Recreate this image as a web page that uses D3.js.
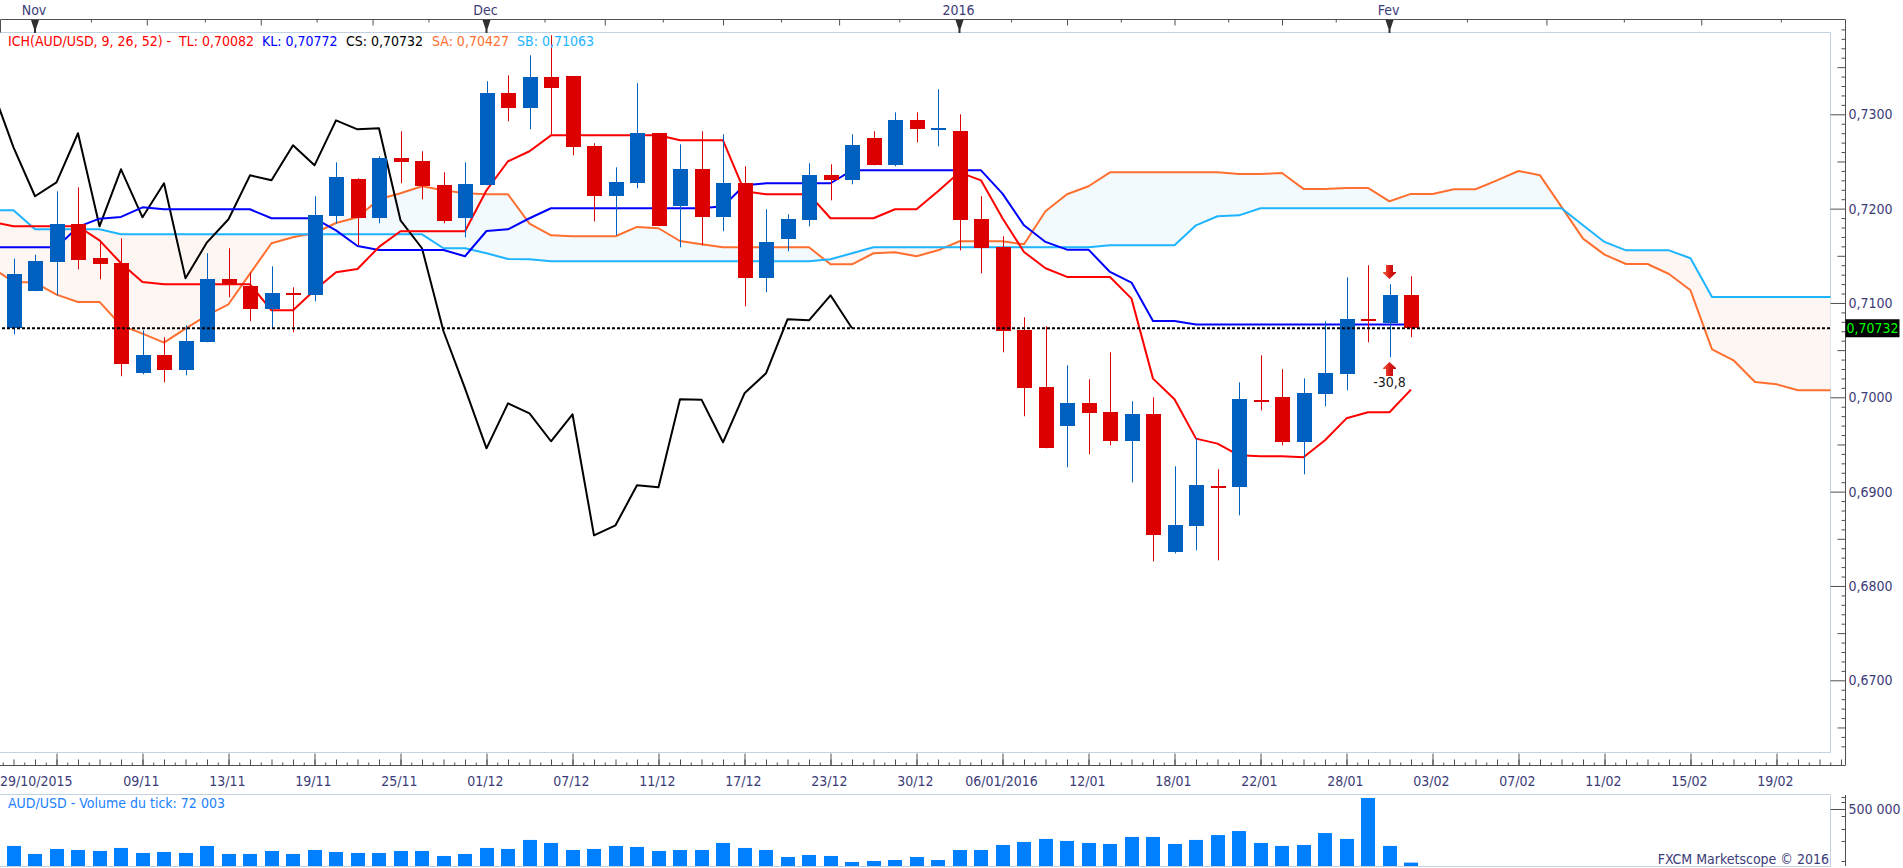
<!DOCTYPE html>
<html>
<head>
<meta charset="utf-8">
<script src="https://cdn.jsdelivr.net/npm/d3@7"></script>
<style>
    html, body { margin: 0; padding: 0; background: #fff; overflow: hidden; }
    text { font-family: "DejaVu Sans Condensed", "DejaVu Sans", sans-serif; font-size: 14px; }
    .axis text { fill: #3c3c78; font-size: 14px; font-family: "DejaVu Sans Condensed", "DejaVu Sans", sans-serif; }
    .axis path, .axis line { stroke: #505050; }
</style>
</head>
<body>
<div id="chart"></div>
<script>
// candles, index 0 = first bar on screen
const open = [0.70728,0.71134,0.71442,0.71841,0.71474,0.71421,0.70254,0.70445,0.70286,0.70583,0.71251,0.71177,0.70933,0.71102,0.71081,0.71919,0.72311,0.71898,0.72534,0.72502,0.72247,0.71898,0.72247,0.73223,0.73064,0.73392,0.73403,0.72661,0.72131,0.72269,0.72799,0.72025,0.72417,0.71908,0.72269,0.71261,0.71675,0.71876,0.72353,0.72300,0.72746,0.72459,0.72936,0.72841,0.72820,0.71887,0.71590,0.70710,0.70106,0.69693,0.69936,0.69841,0.69534,0.69820,0.68357,0.68632,0.69064,0.69046,0.69975,0.70000,0.69523,0.70032,0.70244,0.70827,0.70784,0.71081];
const high = [0.71470,0.71512,0.72184,0.72226,0.71664,0.71686,0.70710,0.70636,0.70763,0.71527,0.71580,0.71325,0.71389,0.71166,0.72131,0.72491,0.72322,0.72555,0.72820,0.72608,0.72385,0.72491,0.73350,0.73413,0.73625,0.73838,0.73403,0.72693,0.72438,0.73329,0.72799,0.72682,0.72820,0.72788,0.72449,0.71993,0.71940,0.72481,0.72470,0.72788,0.72820,0.73021,0.73021,0.73265,0.73000,0.72131,0.71707,0.70848,0.70753,0.70339,0.70191,0.70477,0.69958,0.70000,0.69269,0.69565,0.69237,0.70159,0.70445,0.70297,0.70201,0.70806,0.71272,0.71399,0.71198,0.71283];
const low = [0.70668,0.71124,0.71081,0.71357,0.71251,0.70223,0.70244,0.70159,0.70233,0.70583,0.71060,0.70806,0.70731,0.70689,0.71018,0.71841,0.71611,0.71845,0.72269,0.72099,0.71845,0.71696,0.72247,0.72926,0.72841,0.72788,0.72565,0.71866,0.71717,0.72216,0.71813,0.71590,0.71611,0.71760,0.70965,0.71113,0.71548,0.71813,0.72088,0.72258,0.72459,0.72449,0.72703,0.72661,0.71558,0.71314,0.70477,0.69799,0.69459,0.69258,0.69396,0.69491,0.69099,0.68261,0.68346,0.68378,0.68272,0.68749,0.69862,0.69491,0.69184,0.69905,0.70074,0.70583,0.70424,0.70636];
const close = [0.71304,0.71449,0.71841,0.71463,0.71410,0.70350,0.70445,0.70286,0.70594,0.71251,0.71198,0.70933,0.71102,0.71081,0.71929,0.72332,0.71898,0.72534,0.72491,0.72237,0.71866,0.72258,0.73223,0.73064,0.73392,0.73276,0.72650,0.72131,0.72279,0.72799,0.71813,0.72417,0.71908,0.72269,0.71261,0.71643,0.71887,0.72353,0.72300,0.72671,0.72459,0.72936,0.72841,0.72852,0.71876,0.71580,0.70700,0.70095,0.69459,0.69936,0.69830,0.69534,0.69820,0.68537,0.68643,0.69067,0.69046,0.69979,0.69958,0.69523,0.70042,0.70254,0.70827,0.70816,0.71081,0.70732];

// ichimoku lines, first value sits one bar left of the screen
const tenkan = [0.71859,0.71813,0.71813,0.71813,0.71813,0.71664,0.71421,0.71223,0.71198,0.71198,0.71198,0.71198,0.71198,0.70922,0.70922,0.71134,0.71325,0.71360,0.71594,0.71760,0.71760,0.71760,0.71760,0.72194,0.72502,0.72608,0.72777,0.72777,0.72777,0.72777,0.72777,0.72777,0.72724,0.72724,0.72724,0.72184,0.72152,0.72152,0.72152,0.71898,0.71898,0.71898,0.71993,0.71993,0.72184,0.72385,0.72300,0.71898,0.71541,0.71368,0.71276,0.71276,0.71276,0.71046,0.70198,0.69979,0.69562,0.69509,0.69385,0.69375,0.69375,0.69364,0.69544,0.69777,0.69841,0.69841,0.70082];
const kijun = [0.71590,0.71590,0.71590,0.71590,0.71806,0.71894,0.71912,0.72014,0.71993,0.71993,0.71993,0.71993,0.71993,0.71898,0.71898,0.71898,0.71770,0.71604,0.71562,0.71562,0.71562,0.71562,0.71495,0.71763,0.71781,0.71898,0.72004,0.72004,0.72004,0.72004,0.72004,0.72004,0.72004,0.72004,0.72025,0.72247,0.72269,0.72269,0.72269,0.72269,0.72406,0.72406,0.72406,0.72406,0.72406,0.72406,0.72406,0.72159,0.71823,0.71647,0.71565,0.71565,0.71329,0.71216,0.70809,0.70809,0.70772,0.70772,0.70772,0.70772,0.70772,0.70772,0.70772,0.70772,0.70772,0.70772,0.70772];
const chikou = [0.73276,0.72650,0.72131,0.72279,0.72799,0.71813,0.72417,0.71908,0.72269,0.71261,0.71643,0.71887,0.72353,0.72300,0.72671,0.72459,0.72936,0.72841,0.72852,0.71876,0.71580,0.70700,0.70095,0.69459,0.69936,0.69830,0.69534,0.69820,0.68537,0.68643,0.69067,0.69046,0.69979,0.69975,0.69523,0.70042,0.70254,0.70827,0.70816,0.71081,0.70732];
const senkouA = [0.71375,0.71223,0.71216,0.71088,0.71011,0.71011,0.70763,0.70675,0.70580,0.70728,0.70869,0.70986,0.71311,0.71633,0.71696,0.71742,0.71848,0.71908,0.72099,0.72163,0.72237,0.72194,0.72163,0.72152,0.72152,0.71841,0.71717,0.71707,0.71707,0.71707,0.71806,0.71792,0.71657,0.71622,0.71590,0.71590,0.71590,0.71590,0.71590,0.71410,0.71410,0.71527,0.71537,0.71495,0.71558,0.71654,0.71654,0.71654,0.71622,0.71972,0.72152,0.72237,0.72385,0.72385,0.72385,0.72385,0.72385,0.72385,0.72368,0.72368,0.72378,0.72209,0.72209,0.72219,0.72219,0.72078,0.72156,0.72156,0.72205,0.72205,0.72300,0.72399,0.72353,0.72018,0.71682,0.71512,0.71413,0.71413,0.71307,0.71134,0.70509,0.70392,0.70163,0.70138,0.70074,0.70074,0.70074];
const senkouB = [0.71982,0.71982,0.71781,0.71781,0.71781,0.71781,0.71728,0.71728,0.71728,0.71728,0.71728,0.71728,0.71728,0.71728,0.71728,0.71728,0.71728,0.71728,0.71728,0.71728,0.71728,0.71580,0.71580,0.71527,0.71466,0.71463,0.71442,0.71442,0.71442,0.71442,0.71442,0.71442,0.71442,0.71442,0.71442,0.71442,0.71442,0.71442,0.71442,0.71463,0.71527,0.71590,0.71590,0.71590,0.71590,0.71590,0.71590,0.71590,0.71590,0.71590,0.71590,0.71590,0.71611,0.71611,0.71611,0.71611,0.71823,0.71919,0.71929,0.72004,0.72004,0.72004,0.72004,0.72004,0.72004,0.72004,0.72004,0.72004,0.72004,0.72004,0.72004,0.72004,0.72004,0.72004,0.71823,0.71647,0.71558,0.71558,0.71558,0.71474,0.71063,0.71063,0.71063,0.71063,0.71063,0.71063,0.71063];

const volume = [205000,141000,181000,173000,165000,189000,149000,157000,149000,205000,141000,141000,165000,141000,173000,157000,149000,149000,165000,165000,125000,141000,189000,181000,253000,229000,173000,181000,205000,197000,165000,173000,173000,229000,189000,173000,117000,133000,125000,77000,85000,93000,117000,93000,173000,173000,213000,237000,261000,245000,229000,221000,277000,277000,221000,253000,292000,324000,229000,205000,213000,308000,261000,588000,205000,72003];

// axis labels
const dateLabels = ["29/10/2015","09/11","13/11","19/11","25/11","01/12","07/12","11/12","17/12","23/12","30/12","06/01/2016","12/01","18/01","22/01","28/01","03/02","07/02","11/02","15/02","19/02"];
const monthLabels = ["Nov","Dec","2016","Fev"];
const monthBars = [1,22,44,64];
const topMinor = [3.6,8.9,14.1,19.3,24.7,30.2,35.7,41.2,46.4,51.5,56.5,61.5,67.6,74.9,82.2];
const topMajor = [6.2,11.5,16.7,27.5,33,38.4,49,54,59,71.3,78.5];
const priceLabels = [0.67,0.68,0.69,0.70,0.71,0.72,0.73];
const volumeMinor = [596000,556000,444000,340000,245000,85000];
const lastPrice = 0.70732;
const signalBar = 64;

const legend = [
    {text: "ICH(AUD/USD, 9, 26, 52) -", color: "#ff0000", x: 8},
    {text: "TL: 0,70082", color: "#ff0000", x: 179},
    {text: "KL: 0,70772", color: "#0000ff", x: 262},
    {text: "CS: 0,70732", color: "#000000", x: 346},
    {text: "SA: 0,70427", color: "#ff7030", x: 432},
    {text: "SB: 0,71063", color: "#1eb4ff", x: 517}
];

const width = 1903, height = 868;
const frameRight = 1830.5, axisX = 1845.5;

const svg = d3.select("#chart").append("svg")
    .attr("width", width)
    .attr("height", height)
    .style("display", "block");

const x = d3.scaleLinear().domain([0, 65]).range([13.5, 1411]);
const y = d3.scaleLinear().domain([0.67, 0.73]).range([680.3, 114.3]);
const yVol = d3.scaleLinear().domain([45000, 500000]).range([866, 809]);

const defs = svg.append("defs");
defs.append("clipPath").attr("id", "plot")
    .append("rect").attr("x", 0).attr("y", 33).attr("width", frameRight).attr("height", 719);

// the cloud is one band, coloured by which side of senkou B it falls on
const cloud = senkouA.map((a, i) => ({i: i - 1, a: a, b: senkouB[i]}));
const aboveB = d3.area().x(d => x(d.i)).y0(33).y1(d => y(d.b));
const belowB = d3.area().x(d => x(d.i)).y0(752).y1(d => y(d.b));
defs.append("clipPath").attr("id", "above").append("path").attr("d", aboveB(cloud));
defs.append("clipPath").attr("id", "below").append("path").attr("d", belowB(cloud));

const grad = defs.append("linearGradient").attr("id", "arrow").attr("x1", 0).attr("x2", 1);
grad.append("stop").attr("offset", "0%").attr("stop-color", "#f0603c");
grad.append("stop").attr("offset", "55%").attr("stop-color", "#d81414");
grad.append("stop").attr("offset", "100%").attr("stop-color", "#b80c0c");

// frame lines
const frame = svg.append("g").attr("fill", "none").attr("stroke", "#c2d2e2");
frame.append("path").attr("d", `M0,32.5H${frameRight}V752.5H0`);
frame.append("path").attr("d", `M0,794.5H${frameRight}V866.5H0`);

const plot = svg.append("g").attr("clip-path", "url(#plot)");

const band = d3.area().x(d => x(d.i)).y0(d => y(d.a)).y1(d => y(d.b));
const cloudG = plot.append("g");
cloudG.append("g").attr("clip-path", "url(#above)")
    .append("path").attr("d", band(cloud)).attr("fill", "#f2fafd");
cloudG.append("g").attr("clip-path", "url(#below)")
    .append("path").attr("d", band(cloud)).attr("fill", "#fef6f3");

const line = d3.line().x((d, i) => x(i - 1)).y(d => y(d));
[
    {data: senkouA, color: "#ff7030"},
    {data: senkouB, color: "#1eb4ff"},
    {data: chikou, color: "#000000"},
    {data: kijun, color: "#0000ff"},
    {data: tenkan, color: "#ff0000"}
].forEach(s => {
    plot.append("path")
        .attr("d", line(s.data))
        .attr("fill", "none")
        .attr("stroke", s.color)
        .attr("stroke-width", 2)
        .attr("stroke-linejoin", "round");
});

const bars = d3.range(open.length);
const candleColor = i => close[i] >= open[i] ? "#0060c0" : "#dc0000";

plot.append("g").selectAll("line").data(bars).join("line")
    .attr("x1", i => Math.round(x(i)) + 0.5)
    .attr("x2", i => Math.round(x(i)) + 0.5)
    .attr("y1", i => y(high[i]))
    .attr("y2", i => y(low[i]))
    .attr("stroke", candleColor);

plot.append("g").selectAll("rect").data(bars).join("rect")
    .attr("x", i => Math.round(x(i)) - 7)
    .attr("width", 15)
    .attr("y", i => Math.round(y(Math.max(open[i], close[i]))))
    .attr("height", i => Math.max(2, Math.round(y(Math.min(open[i], close[i])) - y(Math.max(open[i], close[i])))))
    .attr("fill", candleColor);

// last price
svg.append("line")
    .attr("x1", 2).attr("x2", frameRight)
    .attr("y1", y(lastPrice)).attr("y2", y(lastPrice))
    .attr("stroke", "#000")
    .attr("stroke-width", 2)
    .attr("stroke-dasharray", "3,2");

// max / min arrows on the signal bar
const arrowUp = "M0,0L6.5,6V7H3.5V14H-3.5V7H-6.5V6Z";
svg.append("path").attr("d", arrowUp).attr("fill", "url(#arrow)")
    .attr("transform", `translate(${x(signalBar)},362)`);
svg.append("path").attr("d", arrowUp).attr("fill", "url(#arrow)")
    .attr("transform", `translate(${x(signalBar)},279) scale(1,-1)`);
svg.append("text").attr("x", x(signalBar)).attr("y", 387)
    .attr("text-anchor", "middle").attr("fill", "#202020").text("-30,8");

// top axis, one tick per week
const topAxis = svg.append("g").attr("transform", "translate(0,19.5)");
topAxis.append("g").attr("class", "axis")
    .call(d3.axisBottom(x).tickValues(topMinor).tickSize(3).tickSizeOuter(0).tickFormat(""))
    .select(".domain").attr("d", `M0.5,0H${axisX}`);
topAxis.append("g").attr("class", "axis")
    .call(d3.axisBottom(x).tickValues(topMajor).tickSize(6).tickFormat(""))
    .select(".domain").remove();
svg.append("line").attr("x1", 0.5).attr("x2", 0.5).attr("y1", 19.5).attr("y2", 32.5).attr("stroke", "#505050");

monthBars.forEach((b, i) => {
    const g = svg.append("g").attr("transform", `translate(${x(b)},0)`);
    g.append("text").attr("y", 14.5).attr("x", -1).attr("text-anchor", "middle")
        .attr("fill", "#3c3c78").text(monthLabels[i]);
    g.append("path").attr("d", "M-4,20H4L1,29V33H-1V29Z").attr("fill", "#303030");
});

// bottom date axis
const axisBars = d3.range(-1, 171).map(d => d / 2);
const labelBars = dateLabels.map((d, i) => 2 + i * 4);
const dateAxis = svg.append("g").attr("transform", "translate(0,765.5)");
dateAxis.append("g").attr("class", "axis")
    .call(d3.axisTop(x).tickValues(axisBars.filter(d => d % 1 !== 0)).tickSize(3).tickFormat(""))
    .select(".domain").attr("d", `M0,0H${axisX}`);
dateAxis.append("g").attr("class", "axis")
    .call(d3.axisTop(x).tickValues(axisBars.filter(d => d % 1 === 0)).tickSize(6).tickFormat(""))
    .select(".domain").remove();
dateAxis.append("g").attr("class", "axis")
    .call(d3.axisTop(x).tickValues(labelBars).tickSize(12).tickFormat(""))
    .select(".domain").remove();

svg.append("g").selectAll("text").data(dateLabels).join("text")
    .attr("x", (d, i) => i === 0 ? 0 : x(labelBars[i]) - 1)
    .attr("y", 785.5)
    .attr("text-anchor", (d, i) => i === 0 ? "start" : "middle")
    .attr("fill", "#3c3c78")
    .text(d => d);

// price axis
const priceTicks = d3.range(663, 740).map(d => d / 1000);
const isTen = d => Math.round(d * 1000) % 10 === 0;
const isFive = d => Math.round(d * 1000) % 5 === 0;
const priceAxis = svg.append("g").attr("transform", `translate(${axisX},0)`);
priceAxis.append("g").attr("class", "axis")
    .call(d3.axisLeft(y).tickValues(priceTicks.filter(d => !isFive(d))).tickSize(4).tickFormat(""))
    .select(".domain").attr("d", "M0,19.5V765.5");
priceAxis.append("g").attr("class", "axis")
    .call(d3.axisLeft(y).tickValues(priceTicks.filter(d => isFive(d) && !isTen(d))).tickSize(8).tickFormat(""))
    .select(".domain").remove();
priceAxis.append("g").attr("class", "axis")
    .call(d3.axisLeft(y).tickValues(priceLabels).tickSize(15).tickFormat(""))
    .select(".domain").remove();
priceAxis.append("g").attr("class", "axis")
    .call(d3.axisRight(y).tickValues(priceLabels).tickSize(0).tickPadding(3)
        .tickFormat(d => d.toFixed(4).replace(".", ",")))
    .select(".domain").remove();

// last price box
svg.append("rect").attr("x", axisX).attr("y", y(lastPrice) - 9).attr("width", 54).attr("height", 18).attr("fill", "#000");
svg.append("text").attr("x", axisX + 1).attr("y", y(lastPrice) + 5).attr("fill", "#00ff00")
    .text(lastPrice.toFixed(5).replace(".", ","));

// legend
svg.append("g").selectAll("text").data(legend).join("text")
    .attr("x", d => d.x)
    .attr("y", 45.5)
    .attr("fill", d => d.color)
    .text(d => d.text);

// volume pane
svg.append("g").selectAll("rect").data(volume).join("rect")
    .attr("x", (d, i) => Math.round(x(i)) - 7)
    .attr("width", 14)
    .attr("y", d => yVol(d))
    .attr("height", d => yVol.range()[0] - yVol(d))
    .attr("fill", "#0080ff");

const volAxis = svg.append("g").attr("transform", `translate(${axisX},0)`);
volAxis.append("g").attr("class", "axis")
    .call(d3.axisLeft(yVol).tickValues(volumeMinor).tickSize(4).tickFormat(""))
    .select(".domain").attr("d", "M0,795V866");
volAxis.append("g").attr("class", "axis")
    .call(d3.axisLeft(yVol).tickValues([500000]).tickSize(15).tickFormat(""))
    .select(".domain").remove();
volAxis.append("g").attr("class", "axis")
    .call(d3.axisRight(yVol).tickValues([500000]).tickSize(0).tickPadding(3).tickFormat(() => "500 000"))
    .select(".domain").remove();

svg.append("text").attr("x", 8).attr("y", 807.5).attr("fill", "#1a80ff").text("AUD/USD - Volume du tick: 72 003");
svg.append("text").attr("x", 1829).attr("y", 864).attr("text-anchor", "end").attr("fill", "#3c3c78").text("FXCM Marketscope © 2016");
</script>
</body>
</html>
